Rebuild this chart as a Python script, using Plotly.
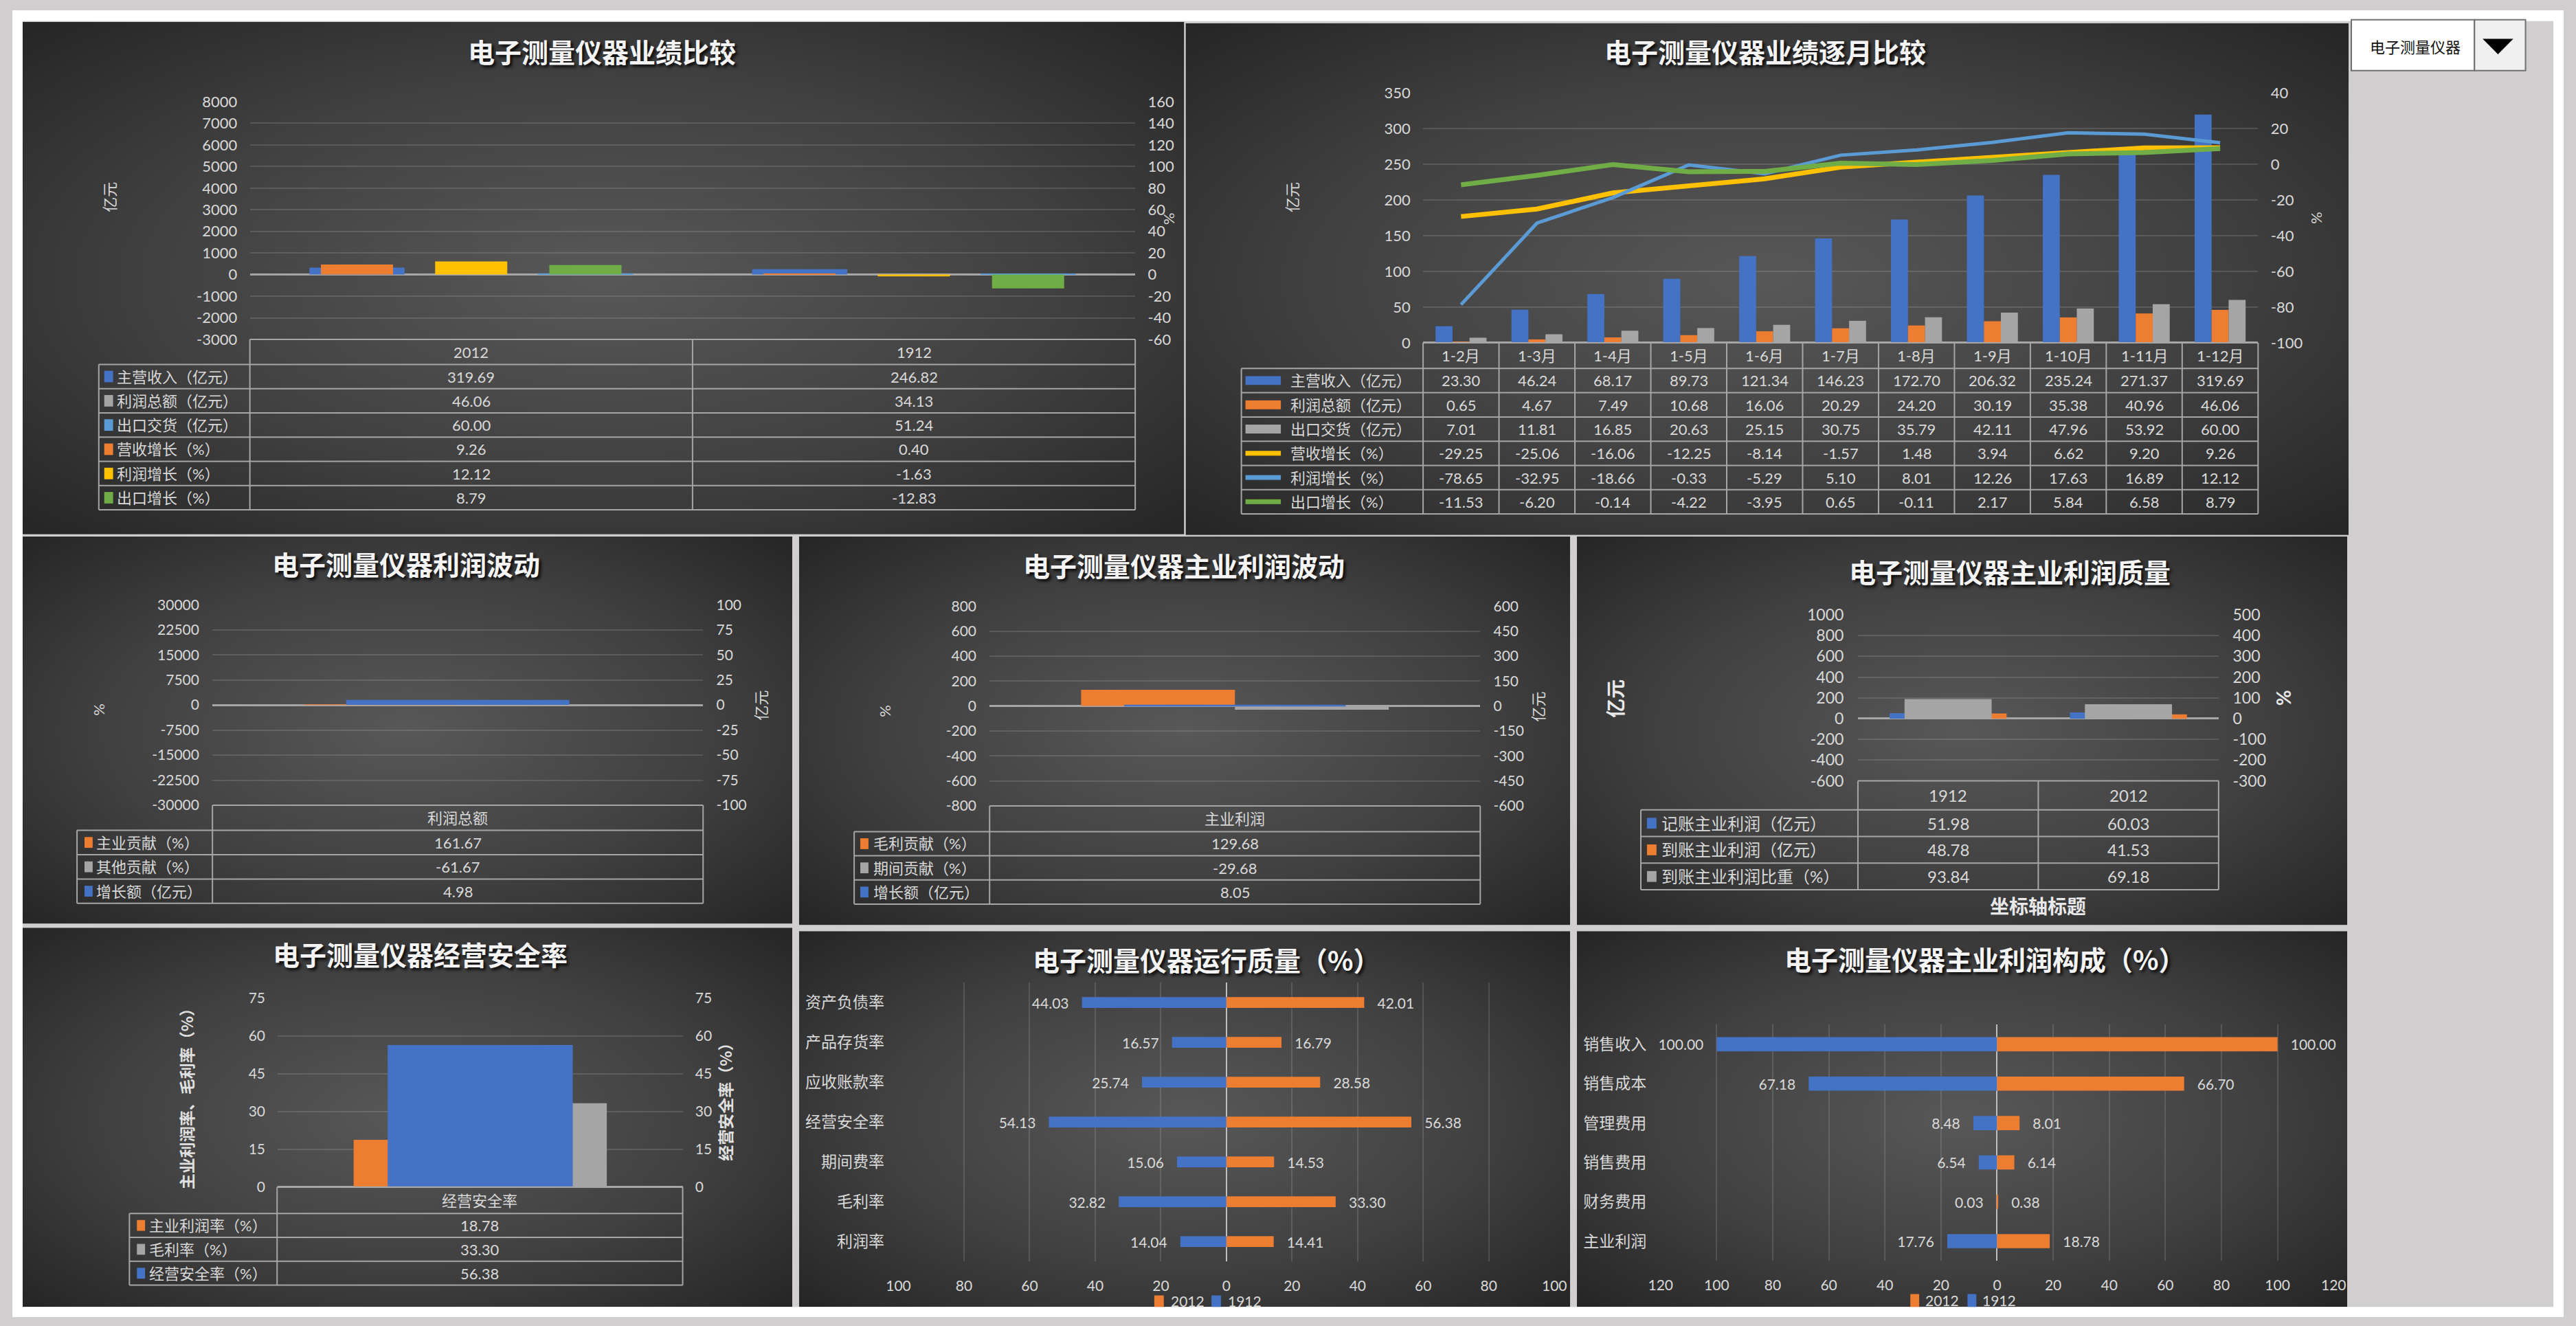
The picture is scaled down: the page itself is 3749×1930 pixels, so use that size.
import base64
import plotly.graph_objects as go

W, H = 3749, 1930


def X(p):
    return p / W


def Y(p):
    return 1 - p / H


# ------------------------------------------------------------------ data
# Panel 1 : 电子测量仪器业绩比较
p1_cats = ["2012", "1912"]
p1_revenue = [319.69, 246.82]
p1_profit = [46.06, 34.13]
p1_export = [60.00, 51.24]
p1_rev_growth = [9.26, 0.40]
p1_profit_growth = [12.12, -1.63]
p1_export_growth = [8.79, -12.83]
p1_left_ticks = [-3000, -2000, -1000, 0, 1000, 2000, 3000, 4000, 5000, 6000, 7000, 8000]
p1_right_ticks = [-60, -40, -20, 0, 20, 40, 60, 80, 100, 120, 140, 160]

# Panel 2 : 电子测量仪器业绩逐月比较
p2_months = ["1-2月", "1-3月", "1-4月", "1-5月", "1-6月", "1-7月", "1-8月", "1-9月", "1-10月", "1-11月", "1-12月"]
p2_revenue = [23.30, 46.24, 68.17, 89.73, 121.34, 146.23, 172.70, 206.32, 235.24, 271.37, 319.69]
p2_profit = [0.65, 4.67, 7.49, 10.68, 16.06, 20.29, 24.20, 30.19, 35.38, 40.96, 46.06]
p2_export = [7.01, 11.81, 16.85, 20.63, 25.15, 30.75, 35.79, 42.11, 47.96, 53.92, 60.00]
p2_rev_growth = [-29.25, -25.06, -16.06, -12.25, -8.14, -1.57, 1.48, 3.94, 6.62, 9.20, 9.26]
p2_profit_growth = [-78.65, -32.95, -18.66, -0.33, -5.29, 5.10, 8.01, 12.26, 17.63, 16.89, 12.12]
p2_export_growth = [-11.53, -6.20, -0.14, -4.22, -3.95, 0.65, -0.11, 2.17, 5.84, 6.58, 8.79]
p2_left_ticks = [0, 50, 100, 150, 200, 250, 300, 350]
p2_right_ticks = [-100, -80, -60, -40, -20, 0, 20, 40]

# Panel 3 : 电子测量仪器利润波动
p3_cats = ["利润总额"]
p3_main_contrib = [161.67]
p3_other_contrib = [-61.67]
p3_growth = [4.98]
p3_left_ticks = [-30000, -22500, -15000, -7500, 0, 7500, 15000, 22500, 30000]
p3_right_ticks = [-100, -75, -50, -25, 0, 25, 50, 75, 100]

# Panel 4 : 电子测量仪器主业利润波动
p4_cats = ["主业利润"]
p4_gross_contrib = [129.68]
p4_period_contrib = [-29.68]
p4_growth = [8.05]
p4_left_ticks = [-800, -600, -400, -200, 0, 200, 400, 600, 800]
p4_right_ticks = [-600, -450, -300, -150, 0, 150, 300, 450, 600]

# Panel 5 : 电子测量仪器主业利润质量
p5_cats = ["1912", "2012"]
p5_booked = [51.98, 60.03]
p5_received = [48.78, 41.53]
p5_ratio = [93.84, 69.18]
p5_left_ticks = [-600, -400, -200, 0, 200, 400, 600, 800, 1000]
p5_right_ticks = [-300, -200, -100, 0, 100, 200, 300, 400, 500]

# Panel 6 : 电子测量仪器经营安全率
p6_cats = ["经营安全率"]
p6_main_margin = [18.78]
p6_gross_margin = [33.30]
p6_safety = [56.38]
p6_ticks = [0, 15, 30, 45, 60, 75]

# Panel 7 : 电子测量仪器运行质量（%）
p7_cats = ["资产负债率", "产品存货率", "应收账款率", "经营安全率", "期间费率", "毛利率", "利润率"]
p7_2012 = [42.01, 16.79, 28.58, 56.38, 14.53, 33.30, 14.41]
p7_1912 = [44.03, 16.57, 25.74, 54.13, 15.06, 32.82, 14.04]
p7_ticks = [-100, -80, -60, -40, -20, 0, 20, 40, 60, 80, 100]

# Panel 8 : 电子测量仪器主业利润构成（%）
p8_cats = ["销售收入", "销售成本", "管理费用", "销售费用", "财务费用", "主业利润"]
p8_2012 = [100.00, 66.70, 8.01, 6.14, 0.38, 18.78]
p8_1912 = [100.00, 67.18, 8.48, 6.54, 0.03, 17.76]
p8_ticks = [-120, -100, -80, -60, -40, -20, 0, 20, 40, 60, 80, 100, 120]

# ------------------------------------------------------------------ style
BLUE = "#4472c4"
ORANGE = "#ed7d31"
GREY = "#a5a5a5"
LBLUE = "#5b9bd5"
YELLOW = "#ffc000"
GREEN = "#70ad47"
TXT = "#d9d9d9"
GRID = "rgba(255,255,255,0.13)"
ZL = "#a6a6a6"
TBL = "#a6a6a6"
NUM_FONT = "Lato, 'Noto Sans CJK SC', sans-serif"
CJK_FONT = "'Noto Sans CJK SC', sans-serif"

layout = {}
traces = []
shapes = []
annots = []
images = []


def akey(letter, n):
    return f"{letter}axis" if n == 1 else f"{letter}axis{n}"


def aref(letter, n):
    return letter if n == 1 else f"{letter}{n}"


def line(x0, y0, x1, y1, color=TBL, w=2, layer="above"):
    shapes.append(dict(type="line", xref="paper", yref="paper", x0=X(x0), y0=Y(y0), x1=X(x1), y1=Y(y1),
                       line=dict(color=color, width=w), layer=layer))


def rect(x0, y0, x1, y1, fill, lc=None, lw=0, layer="above"):
    shapes.append(dict(type="rect", xref="paper", yref="paper", x0=X(x0), y0=Y(y0), x1=X(x1), y1=Y(y1),
                       fillcolor=fill, line=dict(color=lc or fill, width=lw), layer=layer))


def text(x, y, s, size, color=TXT, family=NUM_FONT, xanchor="center", angle=0, weight="normal", shadow=None):
    f = dict(family=family, size=size, color=color, weight=weight)
    if shadow:
        f["shadow"] = shadow
    annots.append(dict(x=X(x), y=Y(y), xref="paper", yref="paper", text=s, showarrow=False, font=f,
                       xanchor=xanchor, yanchor="middle", textangle=angle, borderpad=0))


def title(x, y, s):
    text(x, y, s, 39, color="#f4f4f4", family=CJK_FONT, weight="bold", shadow="3px 3px 4px rgba(0,0,0,0.9)")


def panel_bg(l, t, r, b):
    svg = ('<svg xmlns="http://www.w3.org/2000/svg" width="200" height="200" viewBox="0 0 200 200" '
           'preserveAspectRatio="none"><defs><radialGradient id="g" cx="50%" cy="50%" r="72%">'
           '<stop offset="0" stop-color="#585858"/><stop offset="0.55" stop-color="#404040"/>'
           '<stop offset="1" stop-color="#242424"/></radialGradient></defs>'
           '<rect width="200" height="200" fill="url(#g)"/></svg>')
    uri = "data:image/svg+xml;base64," + base64.b64encode(svg.encode()).decode()
    images.append(dict(source=uri, xref="paper", yref="paper", x=X(l), y=Y(t), sizex=(r - l) / W,
                       sizey=(b - t) / H, sizing="stretch", xanchor="left", yanchor="top", layer="below"))


def vbar_axes(xn, y1n, y2n, box, cats, lticks, rticks, fs, tl=13):
    l, r, t, b = box
    tf = dict(family=NUM_FONT, size=fs, color=TXT)
    layout[akey("x", xn)] = dict(domain=[X(l), X(r)], anchor=aref("y", y1n), type="category",
                                 categoryorder="array", categoryarray=cats, range=[-0.5, len(cats) - 0.5],
                                 showticklabels=False, showgrid=False, zeroline=False, showline=False,
                                 fixedrange=True)
    layout[akey("y", y1n)] = dict(domain=[Y(b), Y(t)], anchor=aref("x", xn), range=[lticks[0], lticks[-1]],
                                  tickmode="array", tickvals=lticks, ticktext=[str(v) for v in lticks],
                                  showgrid=True, gridcolor=GRID, gridwidth=2, zeroline=True, zerolinecolor=ZL,
                                  zerolinewidth=3, ticks="outside", ticklen=tl, tickcolor="rgba(0,0,0,0)",
                                  tickfont=tf, showline=False, fixedrange=True)
    layout[akey("y", y2n)] = dict(overlaying=aref("y", y1n), anchor=aref("x", xn), side="right",
                                  range=[rticks[0], rticks[-1]], tickmode="array", tickvals=rticks,
                                  ticktext=[str(v) for v in rticks], showgrid=False, zeroline=False,
                                  ticks="outside", ticklen=tl, tickcolor="rgba(0,0,0,0)", tickfont=tf,
                                  showline=False, fixedrange=True)


def vbar(cats, vals, xn, yn, color, width, center):
    traces.append(go.Bar(x=cats, y=vals, xaxis=aref("x", xn), yaxis=aref("y", yn), width=width,
                         offset=center - width / 2, marker=dict(color=color, line=dict(width=0)),
                         showlegend=False, hoverinfo="skip"))


def table(label_left, cols, top, hh, rh, headers, rows, fs, key="rect", kdx=8, tdx=25, kw=13, kh=17):
    n = len(rows)
    bottom = top + hh + n * rh
    line(cols[0], top, cols[-1], top)
    for i in range(n + 1):
        yy = top + hh + i * rh
        line(label_left, yy, cols[-1], yy)
    for c in cols:
        line(c, top, c, bottom)
    line(label_left, top + hh, label_left, bottom)
    for j, h in enumerate(headers):
        text((cols[j] + cols[j + 1]) / 2, top + hh / 2, h, fs)
    for i, (label, color, kind, vals) in enumerate(rows):
        cy = top + hh + (i + 0.5) * rh
        if kind == "rect":
            rect(label_left + kdx, cy - kh / 2, label_left + kdx + kw, cy + kh / 2, color)
        else:
            line(label_left + kdx, cy, label_left + kdx + kw, cy, color=color, w=7)
        text(label_left + tdx, cy, label, fs, xanchor="left")
        for j, v in enumerate(vals):
            text((cols[j] + cols[j + 1]) / 2, cy, f"{v:.2f}", fs)


# ------------------------------------------------------------------ page
PANELS = [(15, 17, 1722, 774), (1724, 19, 3433, 775),
          (15, 777, 1146, 1349), (1156, 777, 2289, 1351), (2299, 777, 3431, 1351),
          (15, 1355, 1146, 1915), (1156, 1360, 2289, 1915), (2299, 1360, 3431, 1915)]
for pb in PANELS:
    panel_bg(*pb)
# white page edges
rect(0, 0, W, 16, "#ffffff", layer="below")
rect(0, 0, 15, H, "#ffffff", layer="below")
rect(3734, 0, W, H, "#ffffff", layer="below")
rect(0, 1915, W, H, "#ffffff", layer="below")

# ------------------------------------------------------------------ panel 1
B1 = (349, 1650, 135, 486)
vbar_axes(1, 1, 2, B1, p1_cats, p1_left_ticks, p1_right_ticks, 22)
PW1, SW1, ST1 = 0.215, 0.163, 0.258
vbar(p1_cats, p1_revenue, 1, 1, BLUE, PW1, -ST1)
vbar(p1_cats, p1_profit, 1, 1, GREY, PW1, 0)
vbar(p1_cats, p1_export, 1, 1, LBLUE, PW1, ST1)
vbar(p1_cats, p1_rev_growth, 1, 2, ORANGE, SW1, -ST1)
vbar(p1_cats, p1_profit_growth, 1, 2, YELLOW, SW1, 0)
vbar(p1_cats, p1_export_growth, 1, 2, GREEN, SW1, ST1)
title(866, 60, "电子测量仪器业绩比较")
text(141, 276, "亿元", 22, family=CJK_FONT, angle=-90)
text(1699, 308, "%", 22, angle=-90)
table(127, [349, 999.5, 1650], 486, 37, 35.8, p1_cats,
      [("主营收入（亿元）", BLUE, "rect", p1_revenue), ("利润总额（亿元）", GREY, "rect", p1_profit),
       ("出口交货（亿元）", LBLUE, "rect", p1_export), ("营收增长（%）", ORANGE, "rect", p1_rev_growth),
       ("利润增长（%）", YELLOW, "rect", p1_profit_growth), ("出口增长（%）", GREEN, "rect", p1_export_growth)],
      22)

# ------------------------------------------------------------------ panel 2
B2 = (2073, 3300, 122, 491)
vbar_axes(2, 3, 4, B2, p2_months, p2_left_ticks, p2_right_ticks, 22)
BW2 = 0.224
vbar(p2_months, p2_revenue, 2, 3, BLUE, BW2, -BW2)
vbar(p2_months, p2_profit, 2, 3, ORANGE, BW2, 0)
vbar(p2_months, p2_export, 2, 3, GREY, BW2, BW2)
for vals, col, wd in [(p2_rev_growth, YELLOW, 7), (p2_profit_growth, LBLUE, 5), (p2_export_growth, GREEN, 7)]:
    traces.append(go.Scatter(x=p2_months, y=vals, xaxis="x2", yaxis="y4", mode="lines",
                             line=dict(color=col, width=wd), showlegend=False, hoverinfo="skip"))
title(2576, 60, "电子测量仪器业绩逐月比较")
text(1879, 276, "亿元", 22, family=CJK_FONT, angle=-90)
text(3385, 306, "%", 22, angle=-90)
cw2 = (B2[1] - B2[0]) / len(p2_months)
table(1806, [B2[0] + i * cw2 for i in range(len(p2_months) + 1)], 491, 38, 35.8, p2_months,
      [("主营收入（亿元）", BLUE, "rect", p2_revenue), ("利润总额（亿元）", ORANGE, "rect", p2_profit),
       ("出口交货（亿元）", GREY, "rect", p2_export), ("营收增长（%）", YELLOW, "line", p2_rev_growth),
       ("利润增长（%）", LBLUE, "line", p2_profit_growth), ("出口增长（%）", GREEN, "line", p2_export_growth)],
      22, kdx=6, tdx=71, kw=52, kh=13)

# ------------------------------------------------------------------ panel 3
B3 = (294, 1015, 878, 1174)
vbar_axes(3, 5, 6, B3, p3_cats, p3_left_ticks, p3_right_ticks, 21, tl=14)
vbar(p3_cats, p3_main_contrib, 3, 5, ORANGE, 0.3135, -0.3135 / 2)
vbar(p3_cats, p3_other_contrib, 3, 5, GREY, 0.3135, 0.3135 / 2)
vbar(p3_cats, p3_growth, 3, 6, BLUE, 0.455, 0)
title(579, 817, "电子测量仪器利润波动")
text(126, 1033, "%", 22, angle=-90)
text(1099, 1026, "亿元", 22, family=CJK_FONT, angle=-90)
table(95, [294, 1015], 1174, 37, 36, p3_cats,
      [("主业贡献（%）", ORANGE, "rect", p3_main_contrib), ("其他贡献（%）", GREY, "rect", p3_other_contrib),
       ("增长额（亿元）", BLUE, "rect", p3_growth)], 22, kdx=11, tdx=27, kw=12, kh=16)

# ------------------------------------------------------------------ panel 4
B4 = (1436, 2157, 880, 1175)
vbar_axes(4, 7, 8, B4, p4_cats, p4_left_ticks, p4_right_ticks, 21, tl=14)
vbar(p4_cats, p4_gross_contrib, 4, 7, ORANGE, 0.3135, -0.3135 / 2)
vbar(p4_cats, p4_period_contrib, 4, 7, GREY, 0.3135, 0.3135 / 2)
vbar(p4_cats, p4_growth, 4, 8, BLUE, 0.452, 0)
title(1722, 819, "电子测量仪器主业利润波动")
text(1282, 1035, "%", 22, angle=-90)
text(2241, 1028, "亿元", 22, family=CJK_FONT, angle=-90)
table(1237, [1436, 2157], 1175, 38, 35.7, p4_cats,
      [("毛利贡献（%）", ORANGE, "rect", p4_gross_contrib), ("期间贡献（%）", GREY, "rect", p4_period_contrib),
       ("增长额（亿元）", BLUE, "rect", p4_growth)], 22, kdx=9, tdx=27, kw=12, kh=16)

# ------------------------------------------------------------------ panel 5
B5 = (2712, 3242, 893, 1138)
vbar_axes(5, 9, 10, B5, p5_cats, p5_left_ticks, p5_right_ticks, 23, tl=15)
vbar(p5_cats, p5_booked, 5, 9, BLUE, 0.3245, -0.3245 / 2)
vbar(p5_cats, p5_received, 5, 9, ORANGE, 0.3245, 0.3245 / 2)
vbar(p5_cats, p5_ratio, 5, 10, GREY, 0.483, 0)
title(2935, 828, "电子测量仪器主业利润质量")
text(2355, 1016, "亿元", 28, color="#e8e8e8", family=CJK_FONT, angle=-90, weight="bold")
text(3337, 1015, "%", 28, color="#e8e8e8", angle=-90, weight="bold")
text(2977, 1322, "坐标轴标题", 28, color="#e8e8e8", family=CJK_FONT, weight="bold")
table(2393, [2712, 2977, 3242], 1138, 43, 39.3, p5_cats,
      [("记账主业利润（亿元）", BLUE, "rect", p5_booked), ("到账主业利润（亿元）", ORANGE, "rect", p5_received),
       ("到账主业利润比重（%）", GREY, "rect", p5_ratio)], 24, kdx=9, tdx=29, kw=14, kh=16)

# ------------------------------------------------------------------ panel 6
B6 = (390, 985, 1459, 1738)
vbar_axes(6, 11, 12, B6, p6_cats, p6_ticks, p6_ticks, 21, tl=13)
vbar(p6_cats, p6_main_margin, 6, 11, ORANGE, 0.3126, -0.3126 / 2)
vbar(p6_cats, p6_gross_margin, 6, 11, GREY, 0.3126, 0.3126 / 2)
vbar(p6_cats, p6_safety, 6, 12, BLUE, 0.457, 0)
title(599, 1393, "电子测量仪器经营安全率")
text(255, 1602, "主业利润率、毛利率（%）", 23, color="#e0e0e0", family=CJK_FONT, angle=-90, weight="bold")
text(1047, 1606, "经营安全率（%）", 23, color="#e0e0e0", family=CJK_FONT, angle=-90, weight="bold")
table(172, [389, 985], 1738, 39, 35.3, p6_cats,
      [("主业利润率（%）", ORANGE, "rect", p6_main_margin), ("毛利率（%）", GREY, "rect", p6_gross_margin),
       ("经营安全率（%）", BLUE, "rect", p6_safety)], 22, kdx=11, tdx=28, kw=12, kh=16)


# ------------------------------------------------------------------ butterfly panels
def hbar_panel(xn, yn, box, cats, v2012, v1912, ticks, bw):
    l, r, t, b = box
    layout[akey("x", xn)] = dict(domain=[X(l), X(r)], anchor=aref("y", yn), range=[ticks[0], ticks[-1]],
                                 tickmode="array", tickvals=ticks, ticktext=[str(abs(v)) for v in ticks],
                                 showgrid=True, gridcolor=GRID, gridwidth=2, zeroline=True, zerolinecolor="#bfbfbf",
                                 zerolinewidth=2, ticks="outside", ticklen=17, tickcolor="rgba(0,0,0,0)",
                                 tickfont=dict(family=NUM_FONT, size=21, color=TXT), showline=False,
                                 fixedrange=True)
    layout[akey("y", yn)] = dict(domain=[Y(b), Y(t)], anchor=aref("x", xn), type="category",
                                 categoryorder="array", categoryarray=cats, range=[len(cats) - 0.5, -0.5],
                                 showgrid=False, zeroline=False, showline=False, ticks="outside", ticklen=15,
                                 tickcolor="rgba(0,0,0,0)",
                                 tickfont=dict(family=CJK_FONT, size=23, color=TXT), fixedrange=True)
    sp = "\u00a0\u00a0\u00a0"
    tf = dict(family=NUM_FONT, size=21, color=TXT)
    traces.append(go.Bar(y=cats, x=[-v for v in v1912], orientation="h", xaxis=aref("x", xn),
                         yaxis=aref("y", yn), width=bw, offset=-bw / 2, marker=dict(color=BLUE, line=dict(width=0)),
                         text=[f"{v:.2f}{sp}" for v in v1912], textposition="outside", cliponaxis=False,
                         constraintext="none", textfont=tf, outsidetextfont=tf,
                         showlegend=False, hoverinfo="skip"))
    traces.append(go.Bar(y=cats, x=v2012, orientation="h", xaxis=aref("x", xn),
                         yaxis=aref("y", yn), width=bw, offset=-bw / 2, marker=dict(color=ORANGE, line=dict(width=0)),
                         text=[f"{sp}{v:.2f}" for v in v2012], textposition="outside", cliponaxis=False,
                         constraintext="none", textfont=tf, outsidetextfont=tf,
                         showlegend=False, hoverinfo="skip"))


hbar_panel(7, 13, (1302, 2266, 1436, 1848), p7_cats, p7_2012, p7_1912, p7_ticks, 0.27)
title(1755, 1401, "电子测量仪器运行质量（%）")
rect(1678, 1898, 1692, 1915, ORANGE)
text(1701, 1906, "2012", 21, xanchor="left")
rect(1762, 1898, 1776, 1915, BLUE)
text(1785, 1906, "1912", 21, xanchor="left")

hbar_panel(8, 14, (2422, 3411, 1498, 1847), p8_cats, p8_2012, p8_1912, p8_ticks, 0.36)
title(2899, 1400, "电子测量仪器主业利润构成（%）")
rect(2789, 1896, 2802, 1915, ORANGE)
text(2810, 1905, "2012", 21, xanchor="left")
rect(2873, 1896, 2886, 1915, BLUE)
text(2894, 1905, "1912", 21, xanchor="left")

# ------------------------------------------------------------------ dropdown
rect(3437, 14, 3618, 89, "#ffffff", lc="#707070", lw=2)
rect(3618, 14, 3693, 89, "#f0f0f0", lc="#707070", lw=2)
shapes.append(dict(type="path", xref="paper", yref="paper",
                   path=f"M {X(3630)},{Y(42)} L {X(3675)},{Y(42)} L {X(3652.5)},{Y(65)} Z",
                   fillcolor="#000000", line=dict(width=0), layer="above"))
text(3463, 53, "电子测量仪器", 22, color="#111111", family=CJK_FONT, xanchor="left")

# ------------------------------------------------------------------ figure
fig = go.Figure(data=traces)
fig.update_layout(**layout)
fig.update_layout(width=W, height=H, margin=dict(l=0, r=0, t=0, b=0), autosize=False,
                  paper_bgcolor="#d0cece", plot_bgcolor="rgba(0,0,0,0)", barmode="overlay",
                  showlegend=False, shapes=shapes, annotations=annots, images=images,
                  font=dict(family=NUM_FONT, color=TXT))
fig.write_html("out.html", config={"displayModeBar": False},
               post_script="document.body.style.margin='0px';")
